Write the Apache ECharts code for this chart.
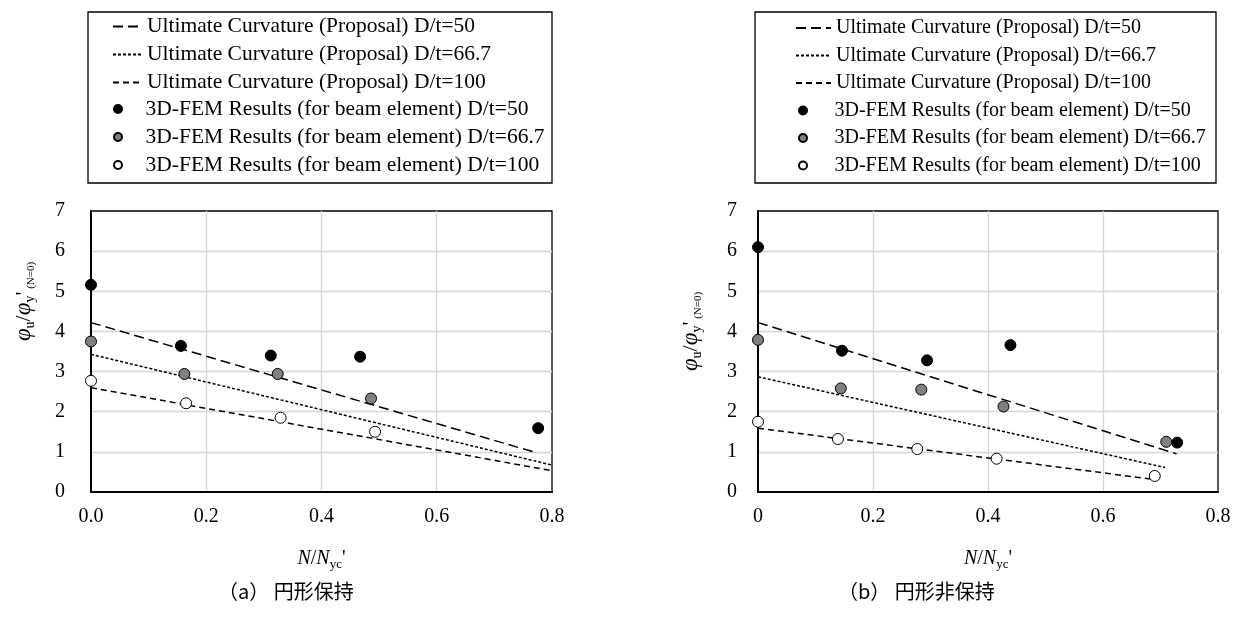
<!DOCTYPE html>
<html><head><meta charset="utf-8">
<script src="https://cdn.jsdelivr.net/npm/echarts@6/dist/echarts.min.js"></script>
<style>html,body{margin:0;padding:0;background:#fff}#c{width:1236px;height:617px}</style>
</head><body><div id="c"></div>
<script>
// ---------- data ----------
const lineNames = ['Ultimate Curvature (Proposal) D/t=50', 'Ultimate Curvature (Proposal) D/t=66.7', 'Ultimate Curvature (Proposal) D/t=100'];
const pointNames = ['3D-FEM Results (for beam element) D/t=50', '3D-FEM Results (for beam element) D/t=66.7', '3D-FEM Results (for beam element) D/t=100'];
const captionA = '（a） 円形保持';
const captionB = '（b） 円形非保持';
const xTicksA = ['0.0', '0.2', '0.4', '0.6', '0.8'];
const xTicksB = ['0', '0.2', '0.4', '0.6', '0.8'];
const yTicks = ['0', '1', '2', '3', '4', '5', '6', '7'];

// panel (a) circular retention: FEM results
const a50X = [0, 0.156, 0.312, 0.467, 0.776];
const a50Y = [5.16, 3.64, 3.40, 3.37, 1.59];
const a67X = [0, 0.162, 0.324, 0.486];
const a67Y = [3.75, 2.94, 2.94, 2.33];
const a100X = [0, 0.165, 0.329, 0.493];
const a100Y = [2.77, 2.21, 1.85, 1.50];
// panel (a) proposal lines (start / end)
const aLine50X = [0, 0.768];  const aLine50Y = [4.22, 1.00];
const aLine67X = [0, 0.8];    const aLine67Y = [3.43, 0.67];
const aLine100X = [0, 0.8];   const aLine100Y = [2.60, 0.53];

// panel (b) non-retention: FEM results
const b50X = [0, 0.146, 0.294, 0.439, 0.729];
const b50Y = [6.10, 3.52, 3.28, 3.66, 1.23];
const b67X = [0, 0.144, 0.284, 0.427, 0.710];
const b67Y = [3.79, 2.58, 2.55, 2.13, 1.25];
const b100X = [0, 0.139, 0.277, 0.415, 0.690];
const b100Y = [1.75, 1.32, 1.07, 0.83, 0.40];
// panel (b) proposal lines
const bLine50X = [0, 0.728];  const bLine50Y = [4.22, 0.95];
const bLine67X = [0, 0.708];  const bLine67Y = [2.87, 0.61];
const bLine100X = [0, 0.685]; const bLine100Y = [1.59, 0.32];

// ---------- build ----------
const SERIF = 'Liberation Serif';
const pts = (xs, ys) => xs.map((x, i) => [x, ys[i]]);
const dashes = [[10, 5], [3, 2], [6, 4]];
const fills = ['#000000', '#808080', '#ffffff'];

function panelSeries(idx, lines, points) {
  const out = [];
  lines.forEach((l, k) => out.push({
    type: 'line', name: lineNames[k], xAxisIndex: idx, yAxisIndex: idx,
    data: pts(l[0], l[1]), symbol: 'none', silent: true, z: 2,
    itemStyle: { color: 'rgba(0,0,0,0)', borderWidth: 0 },
    lineStyle: { color: '#000', width: 1.5, type: dashes[k] }
  }));
  points.forEach((p, k) => out.push({
    type: 'scatter', name: pointNames[k], xAxisIndex: idx, yAxisIndex: idx,
    data: pts(p[0], p[1]), symbol: 'circle', symbolSize: 11, clip: false, z: 3,
    itemStyle: { color: fills[k], borderColor: '#000', borderWidth: 1, opacity: 1 }
  }));
  return out;
}

const series = [].concat(
  panelSeries(0, [[aLine50X, aLine50Y], [aLine67X, aLine67Y], [aLine100X, aLine100Y]],
                 [[a50X, a50Y], [a67X, a67Y], [a100X, a100Y]]),
  panelSeries(1, [[bLine50X, bLine50Y], [bLine67X, bLine67Y], [bLine100X, bLine100Y]],
                 [[b50X, b50Y], [b67X, b67Y], [b100X, b100Y]])
);

const richName = {
  i: { fontFamily: SERIF, fontStyle: 'italic', fontSize: 20, lineHeight: 24, color: '#000' },
  r: { fontFamily: SERIF, fontSize: 20, lineHeight: 24, color: '#000' },
  s: { fontFamily: SERIF, fontSize: 13, lineHeight: 13, verticalAlign: 'bottom', color: '#000' },
  p: { fontFamily: SERIF, fontStyle: 'italic', fontSize: 23, lineHeight: 26, color: '#000' },
  q: { fontFamily: SERIF, fontSize: 22, lineHeight: 26, color: '#000' },
  t: { fontFamily: SERIF, fontSize: 14, lineHeight: 14, verticalAlign: 'bottom', color: '#000' },
  n: { fontFamily: SERIF, fontSize: 11, lineHeight: 12, verticalAlign: 'bottom', color: '#000' }
};

function xAxis(idx, ticks) {
  return {
    gridIndex: idx, type: 'value', min: 0, max: 0.8, interval: 0.2,
    axisLine: { show: true, onZero: false, lineStyle: { color: '#000', width: 2 } },
    axisTick: { show: false },
    splitLine: { show: true, showMinLine: false, showMaxLine: false, lineStyle: { color: '#d4d4d4', width: 1.3 } },
    axisLabel: { margin: 15, fontFamily: SERIF, fontSize: 20, color: '#000', formatter: (v, i) => ticks[i] },
    name: '{i|N}{r|/}{i|N}{s|yc}{r|\'}', nameLocation: 'middle', nameGap: 55,
    nameTextStyle: { rich: richName }
  };
}
function yAxis(idx, margin, gap, shift) {
  return {
    gridIndex: idx, type: 'value', min: 0, max: 7, interval: 1,
    axisLine: { show: true, onZero: false, lineStyle: { color: '#000', width: 2 } },
    axisTick: { show: false },
    splitLine: { show: true, showMinLine: false, showMaxLine: false, lineStyle: { color: '#d4d4d4', width: 1.3 } },
    axisLabel: { margin: margin, fontFamily: SERIF, fontSize: 20, color: '#000', formatter: (v, i) => yTicks[i] },
    name: '{p|φ}{t|u}{q|/}{p|φ}{t|y}{q|\'}{n| (N=0)}', nameLocation: 'middle', nameGap: gap, nameRotate: 90,
    nameTextStyle: { rich: richName, padding: [0, 0, 0, shift] }
  };
}

function legends(lx, lw, sx, pad, fs, gap, topL, topS) {
  const ts = { fontFamily: SERIF, fontSize: fs, color: '#000' };
  return [
    { left: lx, top: topL, orient: 'vertical', itemWidth: lw, itemHeight: 10, itemGap: gap, padding: 0,
      selectedMode: false, data: lineNames, textStyle: ts,
      itemStyle: { color: 'rgba(0,0,0,0)', borderColor: 'rgba(0,0,0,0)', borderWidth: 0 } },
    { left: sx, top: topS, orient: 'vertical', itemWidth: 11, itemHeight: 8, itemGap: gap, padding: 0,
      selectedMode: false, data: pointNames, textStyle: Object.assign({ padding: [0, 0, 0, pad] }, ts) }
  ];
}

const option = {
  animation: false,
  backgroundColor: '#fff',
  title: [
    { text: captionA, left: 218, top: 581, padding: 0,
      textStyle: { fontFamily: 'Noto Sans CJK JP', fontSize: 20, fontWeight: 'normal', color: '#000' } },
    { text: captionB, left: 838, top: 581, padding: 0,
      textStyle: { fontFamily: 'Noto Sans CJK JP', fontSize: 20, fontWeight: 'normal', color: '#000' } }
  ],
  legend: [].concat(
    legends(112, 29, 113, 17, 21.5, 6, 15.5, 98),
    legends(795, 35, 798, 21, 20, 7.5, 18, 100.5)
  ),
  graphic: [
    { type: 'rect', shape: { x: 88, y: 12, width: 464, height: 171 }, style: { fill: 'none', stroke: '#000', lineWidth: 1.3 }, silent: true },
    { type: 'rect', shape: { x: 755, y: 12, width: 461, height: 171 }, style: { fill: 'none', stroke: '#000', lineWidth: 1.3 }, silent: true }
  ],
  grid: [
    { left: 91, top: 211, width: 461, height: 281, show: true, borderColor: '#000', borderWidth: 1.3, backgroundColor: 'transparent' },
    { left: 758, top: 211, width: 460, height: 281, show: true, borderColor: '#000', borderWidth: 1.3, backgroundColor: 'transparent' }
  ],
  xAxis: [xAxis(0, xTicksA), xAxis(1, xTicksB)],
  yAxis: [yAxis(0, 26, 54, 100), yAxis(1, 21, 54, 40)],
  series: series
};

const chart = echarts.init(document.getElementById('c'), null, { renderer: 'canvas' });
chart.setOption(option);
</script>
</body></html>
